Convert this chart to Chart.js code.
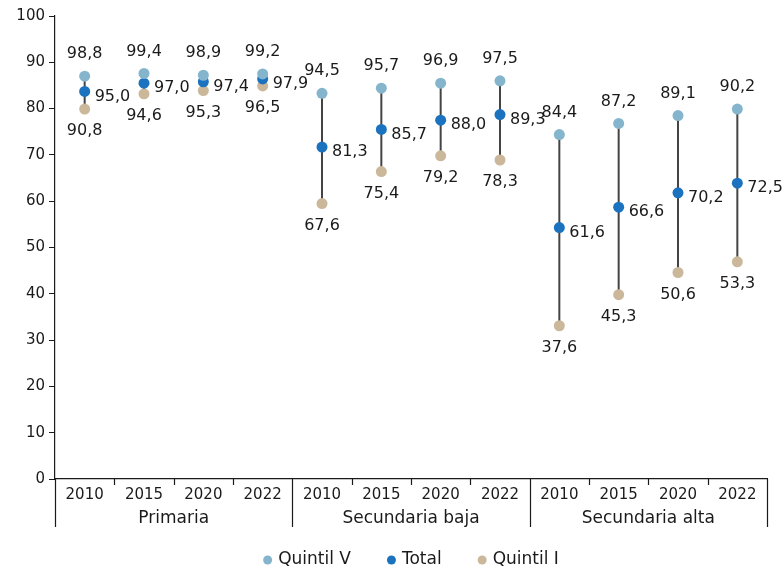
<!DOCTYPE html>
<html>
<head>
<meta charset="utf-8">
<script src="https://cdn.jsdelivr.net/npm/chart.js@4"></script>
<style>
  html, body { margin: 0; padding: 0; background: #fff; }
  .wrap { width: 783px; height: 572px; }
</style>
</head>
<body>
<div class="wrap"><canvas id="c" width="783" height="572"></canvas></div>
<script>
// ── Data ──────────────────────────────────────────────────────────────────
const years   = ['2010', '2015', '2020', '2022', '2010', '2015', '2020', '2022', '2010', '2015', '2020', '2022']
const groups  = ['Primaria', 'Secundaria baja', 'Secundaria alta']
const yTicks  = [0, 10, 20, 30, 40, 50, 60, 70, 80, 90, 100]
const seriesNames = ['Quintil V', 'Total', 'Quintil I']

// point positions as drawn in the picture
const quintilV = [87.0, 87.6, 87.2, 87.5, 83.3, 84.4, 85.5, 86.0, 74.4, 76.8, 78.5, 79.9]
const total    = [83.7, 85.5, 85.8, 86.4, 71.7, 75.5, 77.5, 78.7, 54.3, 58.7, 61.8, 63.9]
const quintilI = [79.9, 83.2, 83.9, 84.9, 59.5, 66.4, 69.8, 68.9, 33.1, 39.8, 44.6, 46.9]

// printed value labels
const quintilVText = ['98,8', '99,4', '98,9', '99,2', '94,5', '95,7', '96,9', '97,5', '84,4', '87,2', '89,1', '90,2']
const totalText    = ['95,0', '97,0', '97,4', '97,9', '81,3', '85,7', '88,0', '89,3', '61,6', '66,6', '70,2', '72,5']
const quintilIText = ['90,8', '94,6', '95,3', '96,5', '67,6', '75,4', '79,2', '78,3', '37,6', '45,3', '50,6', '53,3']

const FONT = '"DejaVu Sans", "Noto Sans", sans-serif'
const INK = '#1a1a1a'
const COLORS = ['#84b5cd', '#1b72be', '#cbb89b']

// ── Plugins ───────────────────────────────────────────────────────────────
const rangeLines = {
  id: 'rangeLines',
  beforeDatasetsDraw(chart) {
    const { ctx, scales: { x, y } } = chart
    ctx.save()
    ctx.strokeStyle = '#444'
    ctx.lineWidth = 2
    quintilV.forEach((v, i) => {
      const px = x.getPixelForValue(i)
      ctx.beginPath()
      ctx.moveTo(px, y.getPixelForValue(v))
      ctx.lineTo(px, y.getPixelForValue(quintilI[i]))
      ctx.stroke()
    })
    ctx.restore()
  }
}

const valueLabels = {
  id: 'valueLabels',
  afterDatasetsDraw(chart) {
    const { ctx } = chart
    const sets = [
      { idx: 0, text: quintilVText, dx: 0, dy: -22, align: 'center' },
      { idx: 1, text: totalText, dx: 10, dy: 5, align: 'left' },
      { idx: 2, text: quintilIText, dx: 0, dy: 22, align: 'center' }
    ]
    ctx.save()
    ctx.font = '16px ' + FONT
    ctx.fillStyle = INK
    ctx.textBaseline = 'middle'
    sets.forEach(s => {
      const meta = chart.getDatasetMeta(s.idx)
      meta.data.forEach((pt, i) => {
        ctx.textAlign = s.align
        ctx.fillText(s.text[i], pt.x + s.dx, pt.y + s.dy)
      })
    })
    ctx.restore()
  }
}

const groupAxis = {
  id: 'groupAxis',
  afterDraw(chart) {
    const { ctx, chartArea, scales: { x } } = chart
    const half = (x.getPixelForValue(1) - x.getPixelForValue(0)) / 2
    const bottom = chartArea.bottom
    ctx.save()
    ctx.strokeStyle = INK
    ctx.lineWidth = 1.2
    for (let i = 0; i <= years.length; i++) {
      const px = i === years.length ? chartArea.right : x.getPixelForValue(i) - half
      const long = i % 4 === 0
      ctx.beginPath()
      ctx.moveTo(Math.round(px) + 0.5, bottom)
      ctx.lineTo(Math.round(px) + 0.5, bottom + (long ? 48 : 6))
      ctx.stroke()
    }
    ctx.font = '17px ' + FONT
    ctx.fillStyle = INK
    ctx.textAlign = 'center'
    ctx.textBaseline = 'middle'
    groups.forEach((g, gi) => {
      const a = x.getPixelForValue(gi * 4) - half
      const b = x.getPixelForValue(gi * 4 + 3) + half
      ctx.fillText(g, (a + b) / 2, bottom + 40)
    })

    // legend, centred under the plot area
    ctx.textAlign = 'left'
    const gap = 36, dotR = 4.5, dotGap = 6
    const widths = seriesNames.map(n => ctx.measureText(n).width + dotR * 2 + dotGap)
    const totalW = widths.reduce((a, b) => a + b, 0) + gap * (widths.length - 1)
    let lx = (chartArea.left + chartArea.right - totalW) / 2
    const ly = 560
    seriesNames.forEach((n, i) => {
      ctx.fillStyle = COLORS[i]
      ctx.beginPath()
      ctx.arc(lx + dotR, ly, dotR, 0, Math.PI * 2)
      ctx.fill()
      ctx.fillStyle = INK
      ctx.fillText(n, lx + dotR * 2 + dotGap, ly)
      lx += widths[i] + gap
    })
    ctx.restore()
  }
}

// ── Chart ─────────────────────────────────────────────────────────────────
const pointDs = (label, data, color) => ({
  label,
  data,
  showLine: false,
  backgroundColor: color,
  borderColor: color,
  pointBackgroundColor: color,
  pointBorderColor: color,
  pointRadius: 5.5,
  pointBorderWidth: 0
})

new Chart(document.getElementById('c'), {
  type: 'line',
  data: {
    labels: years,
    datasets: [
      pointDs(seriesNames[0], quintilV, COLORS[0]),
      pointDs(seriesNames[1], total, COLORS[1]),
      pointDs(seriesNames[2], quintilI, COLORS[2])
    ]
  },
  options: {
    responsive: false,
    animation: false,
    layout: { padding: { top: 16, right: 16, left: 0, bottom: 0 } },
    plugins: {
      tooltip: { enabled: false },
      legend: { display: false }
    },
    scales: {
      x: {
        offset: true,
        grid: { display: false },
        border: { display: true, color: INK, width: 1.2 },
        ticks: { color: INK, padding: -1, font: { family: FONT, size: 15 }, maxRotation: 0, autoSkip: false },
        afterFit(scale) { scale.height = 93 }
      },
      y: {
        min: 0,
        max: 100,
        afterBuildTicks(scale) { scale.ticks = yTicks.map(v => ({ value: v })) },
        grid: { drawOnChartArea: false, tickLength: 6, color: INK },
        border: { display: true, color: INK, width: 1.2 },
        ticks: { color: INK, padding: 4, font: { family: FONT, size: 15 } },
        afterFit(scale) { scale.width = 55 }
      }
    }
  },
  plugins: [rangeLines, valueLabels, groupAxis]
})
</script>
</body>
</html>
